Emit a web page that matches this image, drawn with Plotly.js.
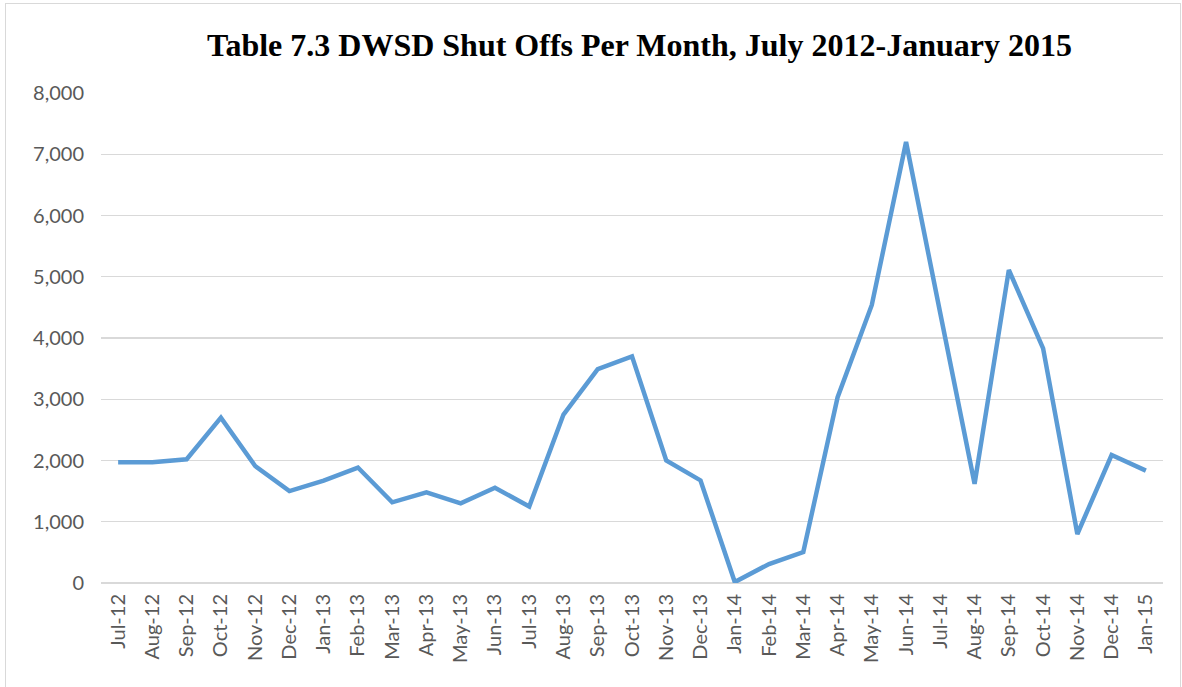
<!DOCTYPE html>
<html>
<head>
<meta charset="utf-8">
<script src="https://cdn.plot.ly/plotly-3.0.1.min.js"></script>
<style>
html,body{margin:0;padding:0;background:#fff;}
#wrap{position:relative;width:1182px;height:687px;}
#chart{width:1182px;height:687px;}
#frame{position:absolute;left:5px;top:3px;width:1174px;height:690px;border:1px solid #d9d9d9;pointer-events:none;}
</style>
</head>
<body>
<div id="wrap"><div id="chart"></div><div id="frame"></div></div>
<script>
var months = ["Jul-12","Aug-12","Sep-12","Oct-12","Nov-12","Dec-12","Jan-13","Feb-13","Mar-13","Apr-13","May-13","Jun-13","Jul-13","Aug-13","Sep-13","Oct-13","Nov-13","Dec-13","Jan-14","Feb-14","Mar-14","Apr-14","May-14","Jun-14","Jul-14","Aug-14","Sep-14","Oct-14","Nov-14","Dec-14","Jan-15"];
var shutOffs = [1970,1970,2020,2700,1910,1500,1670,1885,1317,1480,1300,1555,1250,2750,3490,3700,2000,1675,15,310,505,3030,4540,7200,4400,1620,5110,3830,800,2090,1835];
var yTicks = [0,1000,2000,3000,4000,5000,6000,7000,8000];
var yTickText = ["0","1,000","2,000","3,000","4,000","5,000","6,000","7,000","8,000"];

var trace = {
  x: months,
  y: shutOffs,
  type: "scatter",
  mode: "lines",
  line: {color: "#5b9bd5", width: 4.5},
  hoverinfo: "x+y"
};

var layout = {
  width: 1182,
  height: 687,
  margin: {l: 101, r: 19, t: 93, b: 103.5},
  paper_bgcolor: "#fff",
  plot_bgcolor: "#fff",
  showlegend: false,
  title: {
    text: "<b>Table 7.3 DWSD Shut Offs Per Month, July 2012-January 2015</b>",
    font: {family: "Liberation Serif, Times New Roman, serif", size: 32, color: "#000"},
    x: 0.541, xanchor: "center",
    y: 0.935, yanchor: "middle"
  },
  xaxis: {
    type: "category",
    range: [-0.5, 30.5],
    tickangle: -90,
    tickfont: {family: "Lato, Carlito, Calibri, sans-serif", size: 20, color: "#595959"},
    showgrid: false,
    zeroline: false,
    showline: false,
    ticks: "",
    ticklabelstandoff: 6,
    fixedrange: true
  },
  yaxis: {
    range: [0, 8000],
    tickvals: yTicks,
    ticktext: yTickText,
    tickfont: {family: "Lato, Carlito, Calibri, sans-serif", size: 20, color: "#595959"},
    showgrid: true,
    gridcolor: "#d9d9d9",
    gridwidth: 1.3,
    zeroline: true,
    zerolinecolor: "#d9d9d9",
    zerolinewidth: 1.3,
    showline: false,
    ticks: "",
    ticklabelstandoff: 16,
    fixedrange: true
  }
};

Plotly.newPlot("chart", [trace], layout, {displayModeBar: false, staticPlot: true});
</script>
</body>
</html>
